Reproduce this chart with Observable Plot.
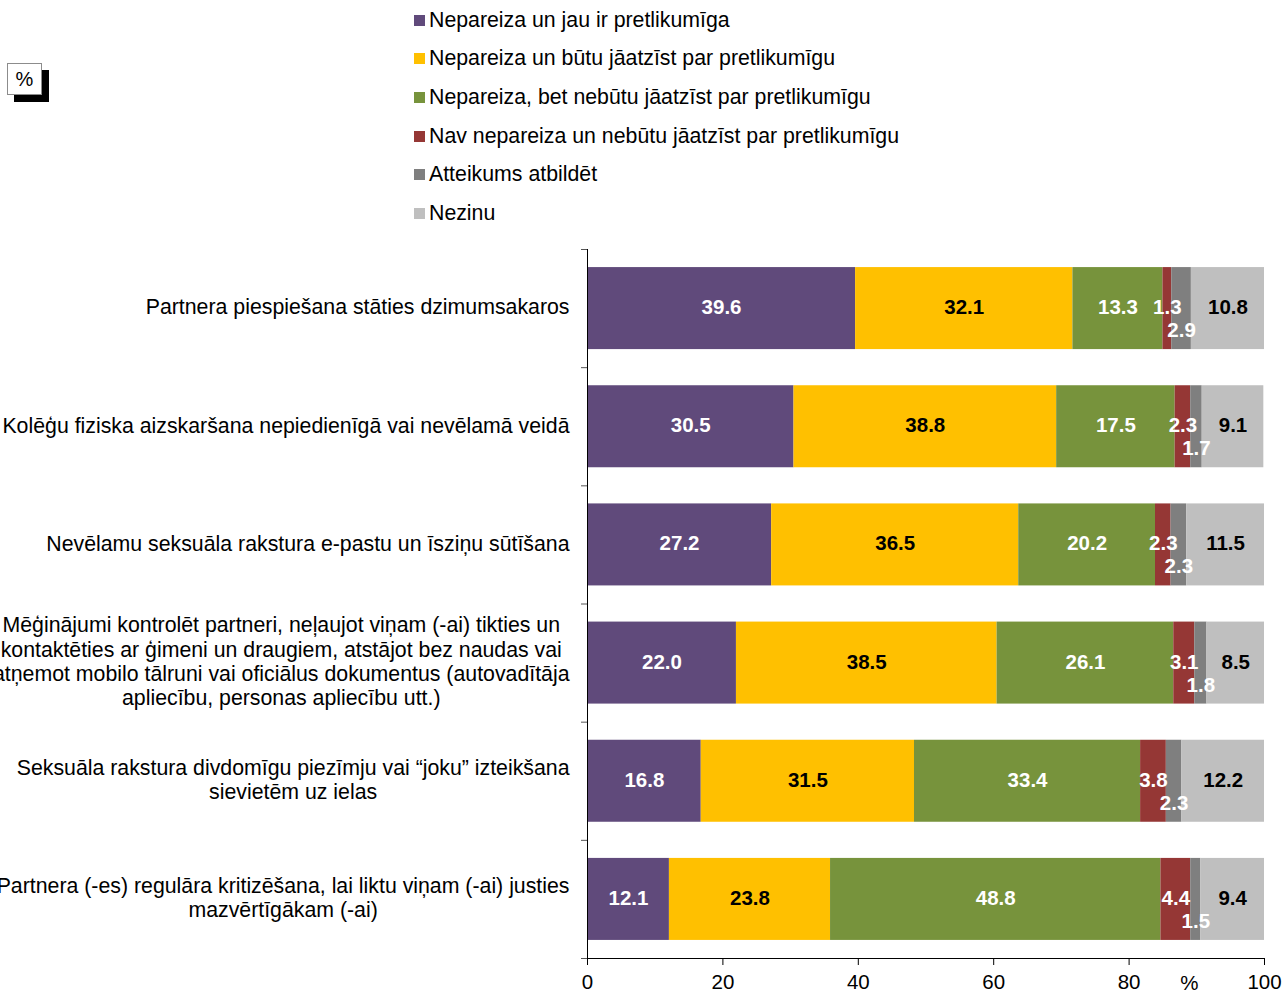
<!DOCTYPE html>
<html>
<head>
<meta charset="utf-8">
<script src="https://cdn.jsdelivr.net/npm/d3@7"></script>
<script src="https://cdn.jsdelivr.net/npm/@observablehq/plot@0.6"></script>
<style>
  html, body { margin: 0; padding: 0; background: white; }
  body { width: 1283px; height: 992px; position: relative; overflow: hidden; font-family: 'Liberation Sans', Arial, sans-serif; }
  #legend { position: absolute; left: 414px; top: 1px; }
  .item { height: 38.6px; display: flex; align-items: center; font-size: 21.3px; color: #000; }
  .sw { width: 11px; height: 11px; margin-right: 4px; }
  #pct { position: absolute; left: 7px; top: 63px; width: 33px; height: 30px; border: 1px solid #8c8c8c; background: white; box-shadow: 7px 7px 0 #000; font-size: 20px; text-align: center; line-height: 30px; }
  #chart { position: absolute; left: 0; top: 240px; }
</style>
</head>
<body>
<div id="legend"></div>
<div id="pct">%</div>
<div id="chart"></div>
<script>
// ---- data ----
const categories = [
  "Partnera piespiešana stāties dzimumsakaros",
  "Kolēģu fiziska aizskaršana nepiedienīgā vai nevēlamā veidā",
  "Nevēlamu seksuāla rakstura e-pastu un īsziņu sūtīšana",
  "Mēģinājumi kontrolēt partneri, neļaujot viņam (-ai) tikties un\nkontaktēties ar ģimeni un draugiem, atstājot bez naudas vai\natņemot mobilo tālruni vai oficiālus dokumentus (autovadītāja\napliecību, personas apliecību utt.)",
  "Seksuāla rakstura divdomīgu piezīmju vai “joku” izteikšana\nsievietēm uz ielas",
  "Partnera (-es) regulāra kritizēšana, lai liktu viņam (-ai) justies\nmazvērtīgākam (-ai)"
];
const seriesNames = [
  "Nepareiza un jau ir pretlikumīga",
  "Nepareiza un būtu jāatzīst par pretlikumīgu",
  "Nepareiza, bet nebūtu jāatzīst par pretlikumīgu",
  "Nav nepareiza un nebūtu jāatzīst par pretlikumīgu",
  "Atteikums atbildēt",
  "Nezinu"
];
const illegalAlready = [39.6, 30.5, 27.2, 22.0, 16.8, 12.1];
const shouldBeIllegal = [32.1, 38.8, 36.5, 38.5, 31.5, 23.8];
const wrongNotIllegal = [13.3, 17.5, 20.2, 26.1, 33.4, 48.8];
const notWrong = [1.3, 2.3, 2.3, 3.1, 3.8, 4.4];
const refused = [2.9, 1.7, 2.3, 1.8, 2.3, 1.5];
const dontKnow = [10.8, 9.1, 11.5, 8.5, 12.2, 9.4];
const xTicks = [0, 20, 40, 60, 80, 100];
const xAxisLabel = "%";

// ---- styles ----
const colors = ["#604a7b", "#ffc000", "#77933c", "#953735", "#7f7f7f", "#bfbfbf"];
const labelColors = ["white", "black", "white", "white", "white", "black"];
const fontFam = "'Liberation Sans', Arial, sans-serif";
const catFont = 21.3;
const barPad = 0.153;

// ---- table ----
const seriesValues = [illegalAlready, shouldBeIllegal, wrongNotIllegal, notWrong, refused, dontKnow];
const table = [];
categories.forEach((cat, i) => {
  let acc = 0;
  seriesValues.forEach((vals, s) => {
    const v = vals[i];
    table.push({cat, i, s, series: seriesNames[s], value: v, x1: acc, x2: acc + v});
    acc += v;
  });
});
const rows = categories.map((cat, i) => ({cat, i}));

// legend
const legend = document.getElementById("legend");
seriesNames.forEach((n, s) => {
  const it = document.createElement("div");
  it.className = "item";
  const sw = document.createElement("span");
  sw.className = "sw"; sw.style.background = colors[s];
  const tx = document.createElement("span");
  tx.textContent = n;
  it.appendChild(sw); it.appendChild(tx);
  legend.appendChild(it);
});

// measure category label widths
const ctx = document.createElement("canvas").getContext("2d");
ctx.font = `${catFont}px ${fontFam}`;
const labelMarks = rows.map(r => {
  const w = d3.max(r.cat.split("\n"), l => ctx.measureText(l).width);
  return Plot.text([r], {
    x: () => 0, y: d => d.i + 0.5, text: "cat",
    textAnchor: "middle", lineAnchor: "middle", lineHeight: 1.14,
    dx: -18 - w / 2, dy: -2, fontSize: catFont, fill: "black"
  });
});

const fmt = d3.format(".1f");
const chart = Plot.plot({
  width: 1283,
  height: 752,
  marginLeft: 587,
  marginRight: 19,
  marginTop: 9,
  marginBottom: 34,
  style: {fontFamily: fontFam, fontSize: "20px", background: "white", overflow: "visible"},
  x: {domain: [0, 100]},
  y: {domain: [0, 6], reverse: true},
  color: {domain: seriesNames, range: colors},
  marks: [
    Plot.rect(table, {x1: "x1", x2: "x2", y1: d => d.i + barPad, y2: d => d.i + 1 - barPad, fill: "series"}),
    Plot.text(table.filter(d => d.s !== 4), {
      x: d => (d.x1 + d.x2) / 2, y: d => d.i + 0.5, text: d => fmt(d.value),
      fill: d => labelColors[d.s] === "white" ? "white" : "black", fontWeight: "bold", fontSize: 20.5, dy: -1
    }),
    Plot.text(table.filter(d => d.s === 4), {
      x: d => (d.x1 + d.x2) / 2, y: d => d.i + 0.5, text: d => fmt(d.value),
      fill: "white", fontWeight: "bold", fontSize: 20.5, dy: 22
    }),
    Plot.ruleX([0], {stroke: "black", strokeWidth: 1}),
    Plot.ruleY([6], {stroke: "black", strokeWidth: 1}),
    Plot.axisY({ticks: d3.range(0, 7), tickSize: 6, tickFormat: () => "", stroke: "#555", label: null}),
    Plot.axisX({ticks: xTicks, tickSize: 7, tickPadding: 9, fontSize: 20.5, label: null, stroke: "black"}),
    Plot.text([xAxisLabel], {frameAnchor: "bottom-right", text: d => d, dx: -66, dy: 25, fontSize: 20.5, lineAnchor: "middle", fill: "black"}),
    ...labelMarks
  ]
});
document.getElementById("chart").appendChild(chart);
</script>
</body>
</html>
